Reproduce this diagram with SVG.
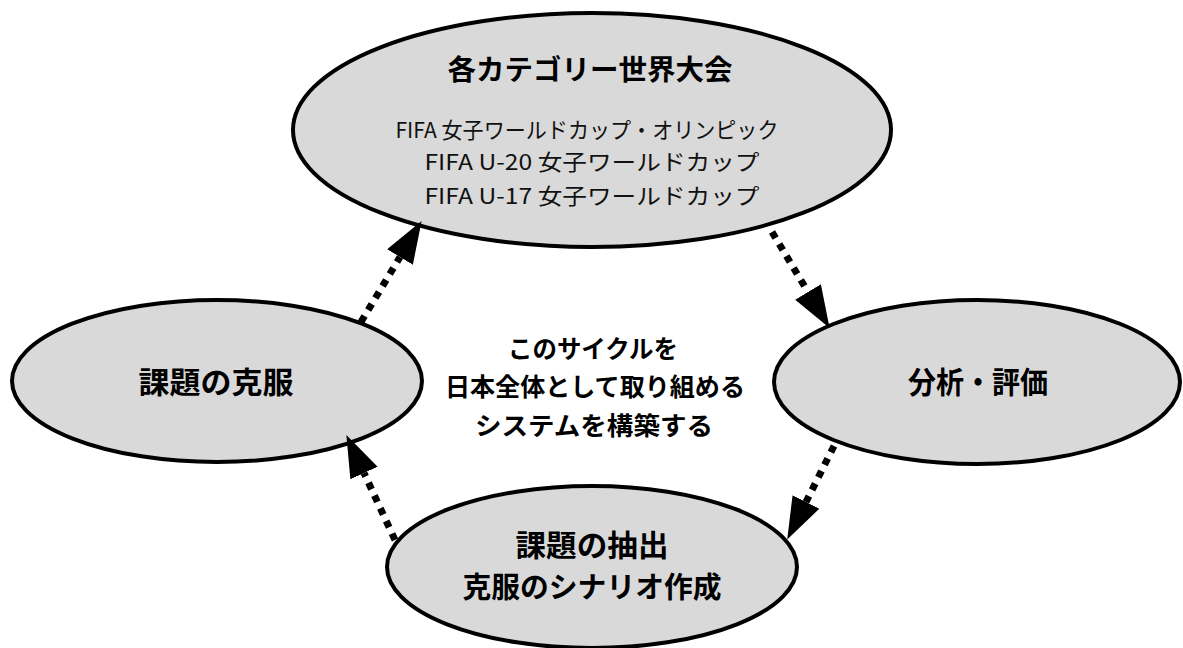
<svg xmlns="http://www.w3.org/2000/svg" width="1183" height="648" viewBox="0 0 1183 648">
  <defs>
    <style>
      .node { fill: #d9d9d9; stroke: #000; stroke-width: 4; }
      .b { font-family: "Noto Sans CJK JP", "Noto Sans", sans-serif; font-weight: bold; fill: #000; text-anchor: middle; }
      .t { font-family: "Noto Sans CJK JP", "Noto Sans", sans-serif; font-weight: normal; fill: #111; text-anchor: middle; font-size: 22px; }
      .dot { fill: none; stroke: #000; stroke-width: 7; stroke-dasharray: 7 7; }
    </style>
    <marker id="head" markerUnits="userSpaceOnUse" markerWidth="44" markerHeight="32" refX="0" refY="15" orient="auto">
      <path d="M0,0 L42,15 L0,30 Z" fill="#000"/>
    </marker>
  </defs>
  <rect width="1183" height="648" fill="#fff"/>

  <g id="node-top">
    <ellipse class="node" cx="592" cy="130" rx="299" ry="117"/>
    <text class="b" x="590" y="80" font-size="28" textLength="285" lengthAdjust="spacingAndGlyphs">各カテゴリー世界大会</text>
    <text class="t" x="587" y="138" textLength="383" lengthAdjust="spacingAndGlyphs">FIFA 女子ワールドカップ・オリンピック</text>
    <text class="t" x="592" y="170" textLength="335" lengthAdjust="spacingAndGlyphs">FIFA U-20  女子ワールドカップ</text>
    <text class="t" x="592" y="204" textLength="335" lengthAdjust="spacingAndGlyphs">FIFA U-17  女子ワールドカップ</text>
  </g>

  <g id="node-left">
    <ellipse class="node" cx="217" cy="381" rx="205" ry="81"/>
    <text class="b" x="216" y="393" font-size="30" textLength="155" lengthAdjust="spacingAndGlyphs">課題の克服</text>
  </g>

  <g id="node-right">
    <ellipse class="node" cx="977" cy="382" rx="203" ry="82"/>
    <text class="b" x="978" y="393" font-size="30" textLength="140" lengthAdjust="spacingAndGlyphs">分析・評価</text>
  </g>

  <g id="node-bottom">
    <ellipse class="node" cx="592" cy="567" rx="205" ry="81"/>
    <text class="b" x="592" y="556" font-size="30" textLength="153" lengthAdjust="spacingAndGlyphs">課題の抽出</text>
    <text class="b" x="592" y="598" font-size="29" textLength="259" lengthAdjust="spacingAndGlyphs">克服のシナリオ作成</text>
  </g>

  <g id="center-label">
    <text class="b" x="593" y="358" font-size="25" textLength="170" lengthAdjust="spacingAndGlyphs">このサイクルを</text>
    <text class="b" x="595" y="396" font-size="25" textLength="300" lengthAdjust="spacingAndGlyphs">日本全体として取り組める</text>
    <text class="b" x="594" y="435" font-size="25" textLength="238" lengthAdjust="spacingAndGlyphs">システムを構築する</text>
  </g>

  <g id="connectors">
    <path class="dot" d="M361,322 L400,257" marker-end="url(#head)"/>
    <path class="dot" d="M772,232 L808,292" marker-end="url(#head)"/>
    <path class="dot" d="M834,446 L806,502" marker-end="url(#head)"/>
    <path class="dot" d="M395,540 L364,473" marker-end="url(#head)"/>
  </g>
</svg>
